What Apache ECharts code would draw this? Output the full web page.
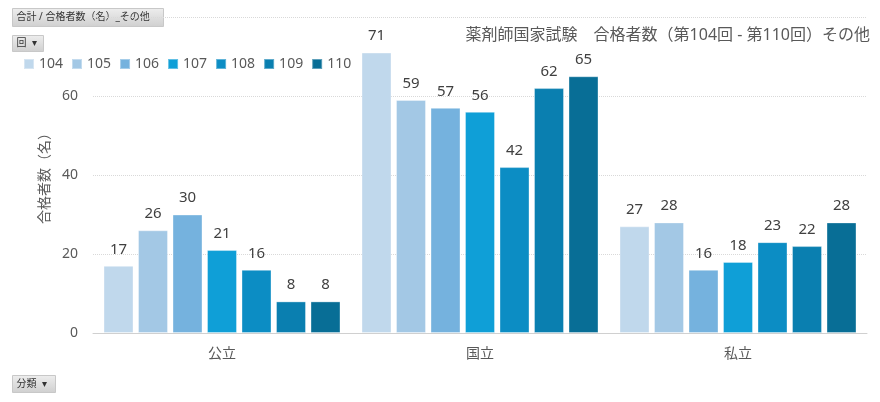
<!DOCTYPE html>
<html lang="ja" style="height: 100%">
<head>
  <meta charset="UTF-8">
  <title>薬剤師国家試験 合格者数 その他</title>
  <script src="https://cdn.jsdelivr.net/npm/echarts@6.0.0/dist/echarts.min.js"></script>
</head>
<body style="height: 100%; margin: 0; background: #fff">
  <div id="container" style="width: 880px; height: 402px"></div>
  <script>
    // 分類
    var categories = ['公立', '国立', '私立'];
    // 回
    var rounds = ['104', '105', '106', '107', '108', '109', '110'];
    // 合格者数（名）per round, in category order
    var r104 = [17, 71, 27];
    var r105 = [26, 59, 28];
    var r106 = [30, 57, 16];
    var r107 = [21, 56, 18];
    var r108 = [16, 42, 23];
    var r109 = [8, 62, 22];
    var r110 = [8, 65, 28];
    var seriesValues = [r104, r105, r106, r107, r108, r109, r110];
    var colors = ['#c0d8ec', '#a3c8e5', '#75b2de', '#0f9fd7', '#0c8dc4', '#0a7fb0', '#086e96'];

    var font = "'Noto Sans', 'Noto Sans CJK JP', sans-serif";
    var chart = echarts.init(document.getElementById('container'));

    var series = rounds.map(function (name, i) {
      return {
        name: name,
        type: 'bar',
        data: seriesValues[i],
        barWidth: 30,
        barGap: '15%',
        itemStyle: { color: colors[i], borderColor: 'rgba(255,255,255,0.35)', borderWidth: 1 },
        label: {
          show: true,
          position: 'top',
          distance: 9,
          color: '#404040',
          fontSize: 15,
          fontFamily: font
        }
      };
    });

    // pivot-table style buttons
    function button(left, top, w, h, text) {
      return {
        type: 'group',
        left: left,
        top: top,
        children: [
          {
            type: 'rect',
            shape: { x: 0, y: 0, width: w, height: h },
            style: {
              fill: new echarts.graphic.LinearGradient(0, 0, 0, 1, [
                { offset: 0, color: '#eeeeee' },
                { offset: 1, color: '#cfcfcf' }
              ]),
              stroke: '#c8c8c8'
            }
          },
          {
            type: 'text',
            x: 4,
            y: h / 2,
            style: { text: text, fill: '#333', font: '10px ' + font, textVerticalAlign: 'middle' }
          }
        ]
      };
    }

    var option = {
      animation: false,
      title: {
        text: '薬剤師国家試験　合格者数（第104回 - 第110回）その他',
        right: 5,
        top: 22,
        textStyle: { color: '#595959', fontSize: 16, fontWeight: 'normal', fontFamily: font }
      },
      legend: {
        data: rounds,
        left: 18,
        top: 52,
        itemWidth: 10,
        itemHeight: 10,
        itemGap: 8,
        icon: 'rect',
        textStyle: { color: '#595959', fontSize: 14, fontFamily: font }
      },
      grid: { left: 93, right: 13, top: 17, bottom: 69 },
      xAxis: {
        type: 'category',
        data: categories,
        axisLine: { lineStyle: { color: '#d0d0d0' } },
        axisTick: { show: false },
        axisLabel: { color: '#595959', fontSize: 14, margin: 14, fontFamily: font }
      },
      yAxis: {
        type: 'value',
        min: 0,
        max: 80,
        interval: 20,
        name: '合格者数（名）',
        nameLocation: 'middle',
        nameGap: 41,
        nameMoveOverlap: false,
        nameTextStyle: { color: '#595959', fontSize: 14, fontFamily: font },
        axisLine: { show: false },
        axisTick: { show: false },
        axisLabel: {
          color: '#595959',
          fontSize: 14,
          margin: 15,
          fontFamily: font,
          formatter: function (v) { return v === 80 ? '' : v; }
        },
        splitLine: { lineStyle: { color: '#d9d9d9', type: 'dotted' } }
      },
      series: series,
      graphic: [
        button(12, 8, 151, 18, '合計 / 合格者数（名）_その他'),
        button(12, 35, 31, 16, '回  ▾'),
        button(12, 375, 43, 17, '分類  ▾')
      ]
    };
    chart.setOption(option);
  </script>
</body>
</html>
